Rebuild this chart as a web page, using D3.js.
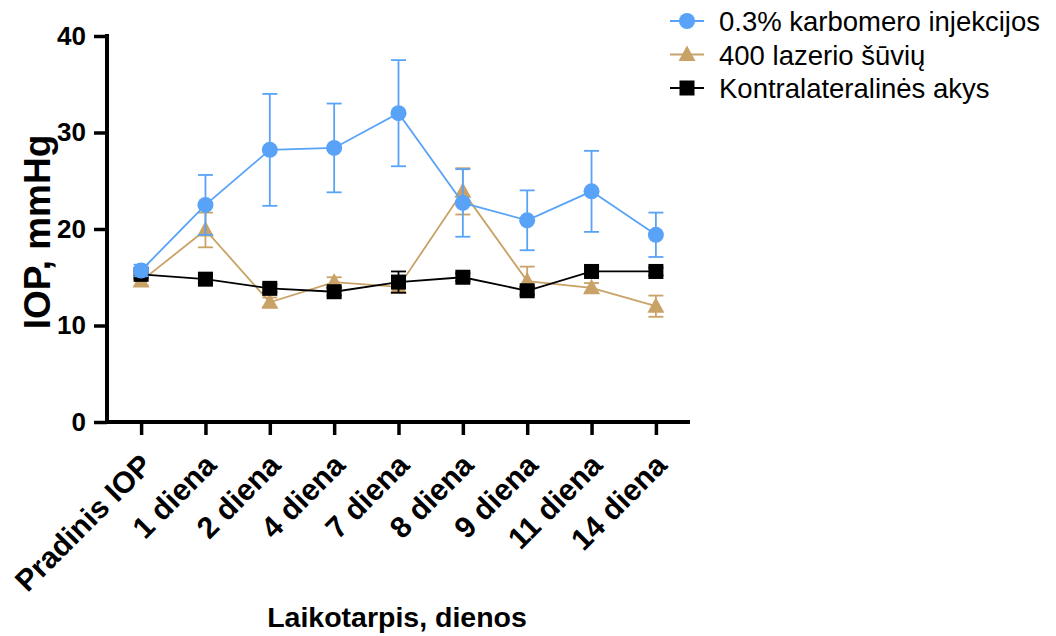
<!DOCTYPE html>
<html>
<head>
<meta charset="utf-8">
<script src="https://cdn.jsdelivr.net/npm/d3@7"></script>
<style>
  html, body { margin: 0; padding: 0; background: #fff; }
  svg { display: block; font-family: "Liberation Sans", Arial, sans-serif; }
</style>
</head>
<body>
<svg id="chart" width="1056" height="636"></svg>
<script>
// Time points
const categories = ["Pradinis IOP", "1 diena", "2 diena", "4 diena", "7 diena", "8 diena", "9 diena", "11 diena", "14 diena"];

// Mean IOP (mmHg) and error per group
const karbomero    = [15.7, 22.5, 28.2, 28.4, 32.0, 22.7, 20.9, 23.9, 19.4];
const karbomeroErr = [0.6, 3.1, 5.8, 4.6, 5.5, 3.5, 3.1, 4.2, 2.3];
const lazerio      = [14.6, 19.9, 12.4, 14.5, 14.0, 23.9, 14.6, 13.9, 12.0];
const lazerioErr   = [0.5, 1.8, 0.5, 0.5, 0.6, 2.4, 1.5, 0.5, 1.1];
const kontra       = [15.3, 14.8, 13.85, 13.5, 14.5, 15.0, 13.6, 15.6, 15.6];
const kontraErr    = [0.4, 0.4, 0.4, 0.4, 1.1, 0.4, 0.4, 0.4, 0.4];

const yTicks = [0, 10, 20, 30, 40];
const seriesNames = ["0.3% karbomero injekcijos", "400 lazerio šūvių", "Kontralateralinės akys"];

const svg = d3.select("#chart");

const x = d3.scalePoint().domain(categories).range([107, 690]).padding(0.53);
const y = d3.scaleLinear().domain([0, 40]).range([422, 36]);

// Series definitions (drawn bottom to top)
const series = [
  { name: seriesNames[1], values: lazerio, err: lazerioErr, color: "#C9A267", shape: "triangle" },
  { name: seriesNames[2], values: kontra, err: kontraErr, color: "#000000", shape: "square" },
  { name: seriesNames[0], values: karbomero, err: karbomeroErr, color: "#58A3F8", shape: "circle" }
];

function marker(g, shape, color) {
  if (shape === "circle") {
    g.append("circle").attr("r", 8).attr("fill", color);
  } else if (shape === "square") {
    g.append("rect").attr("x", -7.5).attr("y", -7.5).attr("width", 15).attr("height", 15).attr("fill", color);
  } else {
    g.append("path").attr("d", "M0,-9 L8.5,6.5 L-8.5,6.5 Z").attr("fill", color);
  }
}

const line = d3.line().x((d, i) => x(categories[i])).y(d => y(d));

series.forEach(s => {
  const g = svg.append("g");
  // error bars
  s.values.forEach((v, i) => {
    const cx = x(categories[i]);
    const y1 = y(v + s.err[i]), y0 = y(v - s.err[i]);
    g.append("line").attr("x1", cx).attr("x2", cx).attr("y1", y1).attr("y2", y0)
      .attr("stroke", s.color).attr("stroke-width", 1.8);
    [y1, y0].forEach(yy => g.append("line").attr("x1", cx - 7.5).attr("x2", cx + 7.5)
      .attr("y1", yy).attr("y2", yy).attr("stroke", s.color).attr("stroke-width", 1.8));
  });
  // connecting line
  g.append("path").datum(s.values).attr("d", line).attr("fill", "none")
    .attr("stroke", s.color).attr("stroke-width", 1.8);
  // markers
  s.values.forEach((v, i) => {
    const m = g.append("g").attr("transform", `translate(${x(categories[i])},${y(v)})`);
    marker(m, s.shape, s.color);
  });
});

// Y axis
const yAxis = svg.append("g").attr("transform", "translate(107,0)")
  .call(d3.axisLeft(y).tickValues(yTicks).tickSize(13).tickPadding(8).tickSizeOuter(0));
yAxis.select(".domain").attr("stroke-width", 4).attr("d", `M0,${y(40) - 2}V${y(0) + 2}`);
yAxis.selectAll(".tick line").attr("stroke-width", 3.5);
yAxis.selectAll(".tick text").attr("font-size", 26).attr("font-weight", "bold")
  .attr("font-family", "'Liberation Sans', Arial, sans-serif").attr("fill", "#000");

// X axis
const xAxis = svg.append("g").attr("transform", `translate(0,${y(0)})`)
  .call(d3.axisBottom(x).tickSize(13).tickSizeOuter(0));
xAxis.select(".domain").attr("stroke-width", 4).attr("d", `M105,0H690`);
xAxis.selectAll(".tick line").attr("stroke-width", 3.5);
xAxis.selectAll(".tick text")
  .attr("font-size", 30).attr("font-weight", "bold")
  .attr("font-family", "'Liberation Sans', Arial, sans-serif").attr("fill", "#000")
  .attr("text-anchor", "end")
  .attr("transform", "translate(-3,30) rotate(-45)")
  .attr("dy", "0.71em").attr("x", 0).attr("y", 0);

// Axis titles
svg.append("text").attr("transform", "translate(50,232) rotate(-90)")
  .attr("text-anchor", "middle").attr("font-size", 37).attr("font-weight", "bold").text("IOP, mmHg");
svg.append("text").attr("x", 397).attr("y", 627)
  .attr("text-anchor", "middle").attr("font-size", 28.5).attr("font-weight", "bold").text("Laikotarpis, dienos");

// Legend
const legendItems = [series[2], series[0], series[1]];
legendItems.forEach((s, i) => {
  const cy = 21 + i * 33.5;
  const g = svg.append("g");
  g.append("line").attr("x1", 670).attr("x2", 704).attr("y1", cy).attr("y2", cy)
    .attr("stroke", s.color).attr("stroke-width", 1.8);
  const m = g.append("g").attr("transform", `translate(687,${cy})`);
  marker(m, s.shape, s.color);
  g.append("text").attr("x", 719).attr("y", cy + 10).attr("font-size", 27.5).text(s.name);
});
</script>
</body>
</html>
